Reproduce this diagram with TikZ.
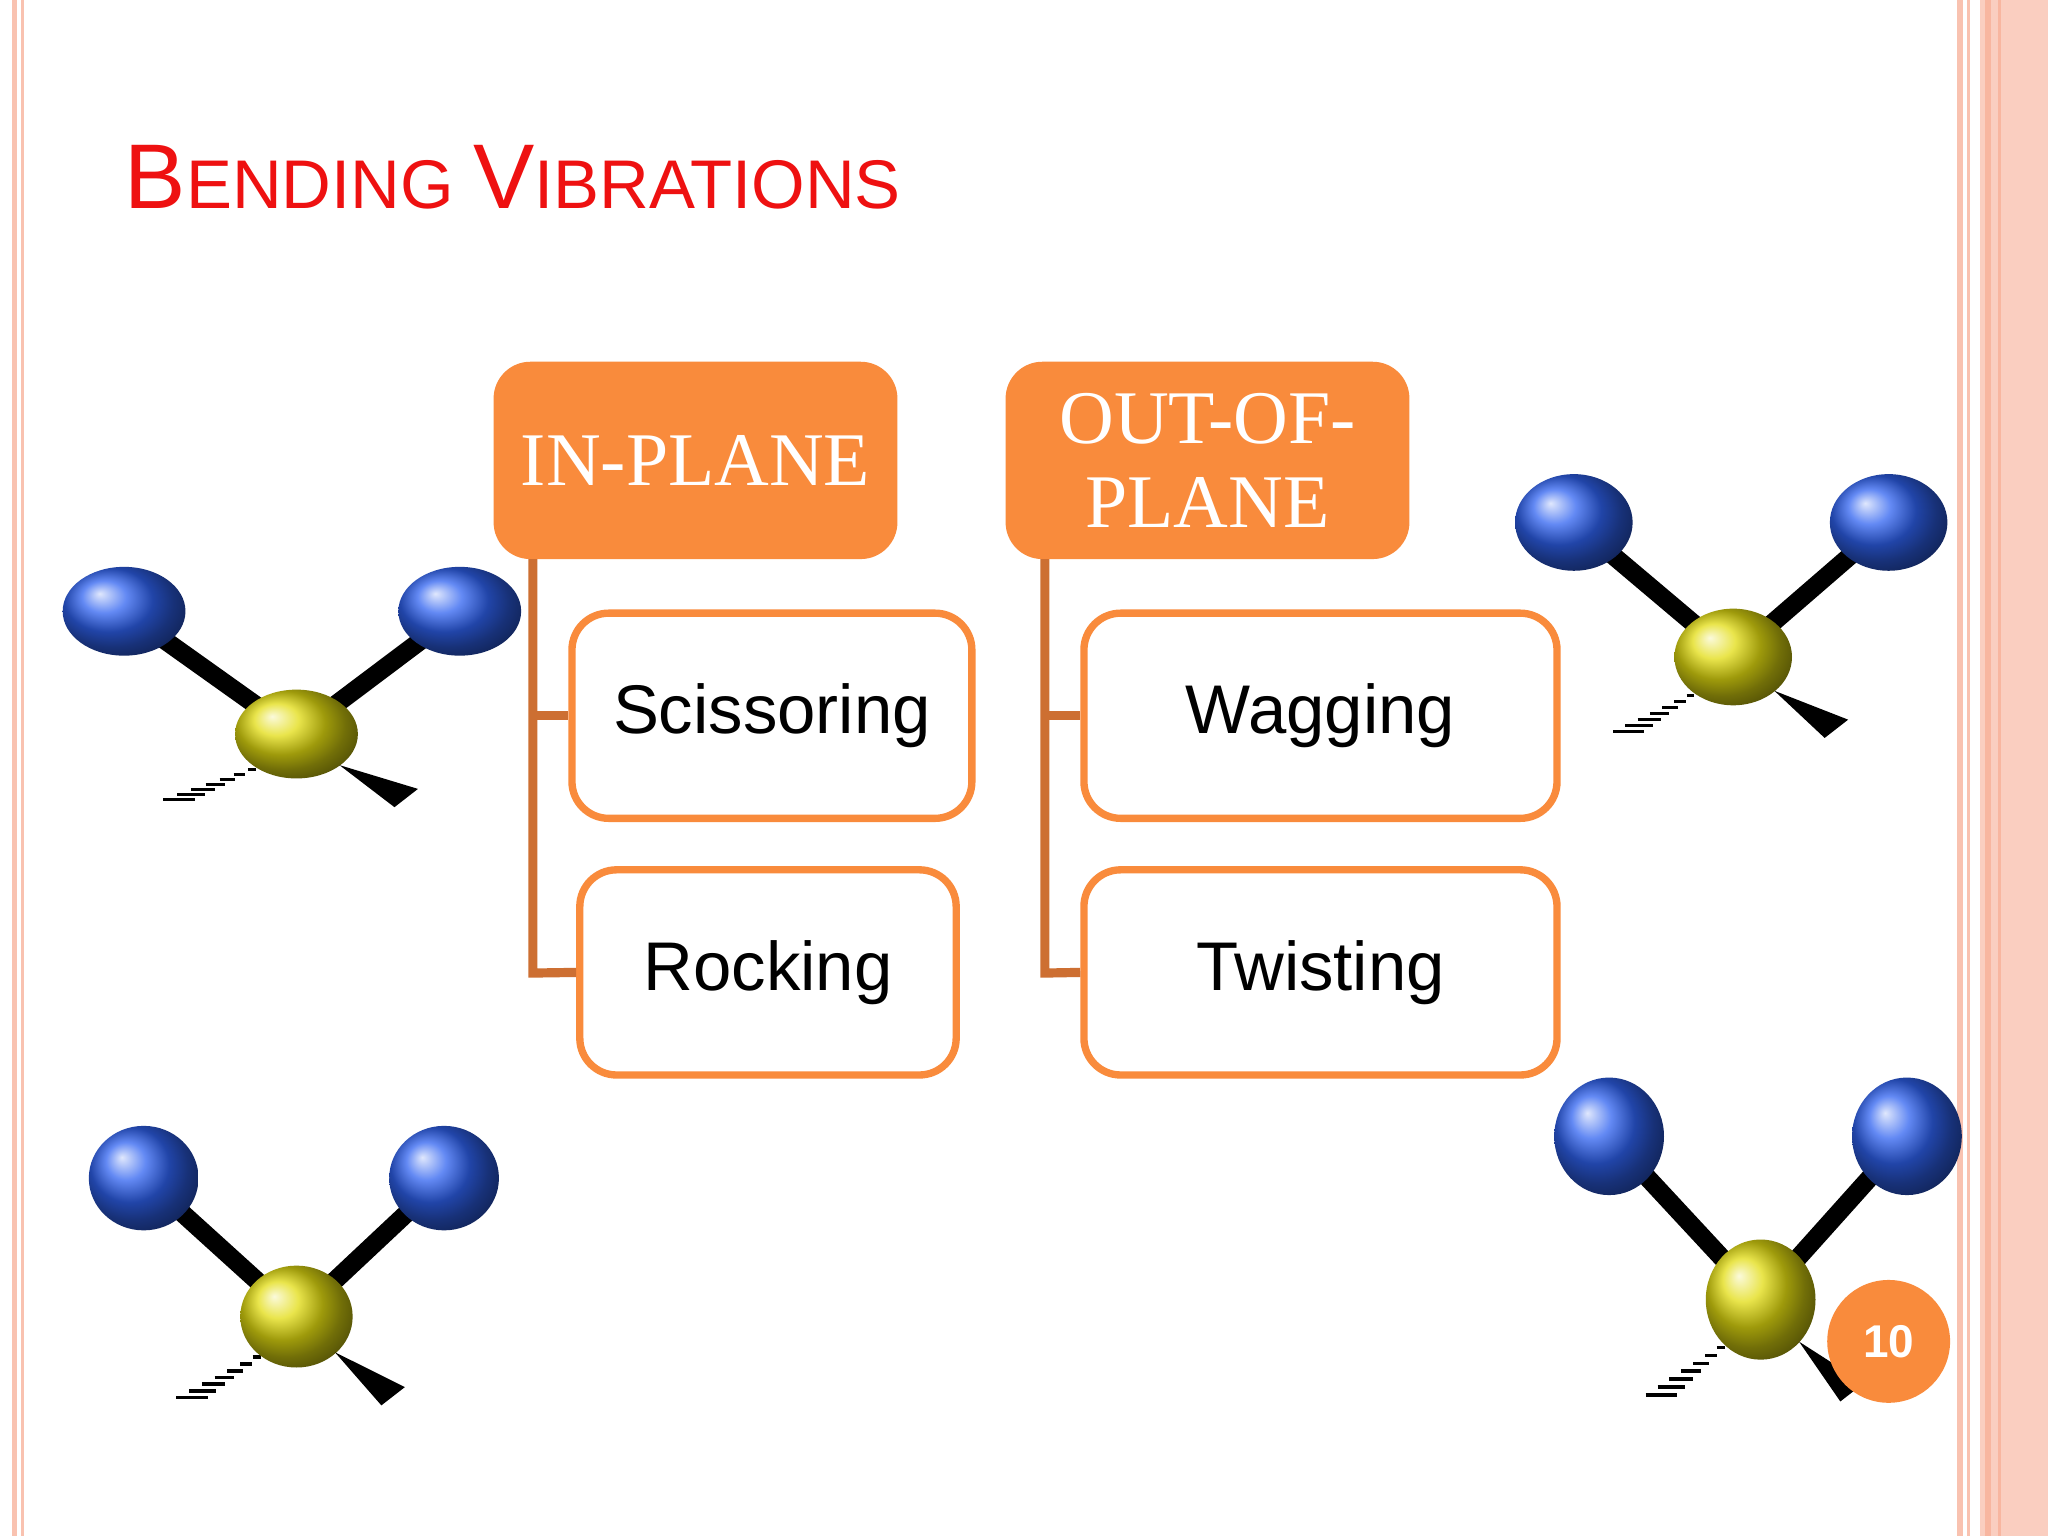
\documentclass[tikz,border=0pt]{standalone}
\usepackage{fontspec}
\setmainfont{Liberation Serif}
\setsansfont{Liberation Sans}
\definecolor{org}{HTML}{F98B3C}
\definecolor{lnk}{HTML}{CD6F32}
\definecolor{pinkl}{HTML}{F9C2B0}
\definecolor{blu}{HTML}{2F62F0}
\definecolor{yel}{HTML}{E2DC10}
\definecolor{tred}{HTML}{EE1111}
\tikzset{
 head/.style={fill=org,rounded corners=8pt,minimum width=3.09cm,minimum height=1.51cm,text=white,font=\fontsize{16.5}{17}\selectfont,align=center,inner sep=0pt},
 child/.style={draw=org,line width=1.6pt,fill=white,rounded corners=8pt,font=\sffamily\fontsize{15}{17}\selectfont,inner sep=0pt},
 link/.style={draw=lnk,line width=2pt},
 bond/.style={line width=4pt,black},
 batom/.style={ball color=blu,shading=ball},
 yatom/.style={ball color=yel,shading=ball}
}
\begin{document}
\begin{tikzpicture}[x=0.01cm,y=-0.01cm]
\useasboundingbox (0,0) rectangle (1568,1176);
\fill[white] (0,0) rectangle (1568,1176);
% borders
\fill[pinkl] (9,0) rectangle (13,1176);
\fill[pinkl] (16,0) rectangle (18,1176);
\fill[pinkl] (1498,0) rectangle (1503,1176);
\fill[pinkl] (1506,0) rectangle (1508,1176);
\fill[pinkl!80] (1516,0) rectangle (1568,1176);
\fill[pinkl!120] (1520,0) rectangle (1524,1176);
\fill[pinkl!120] (1530,0) rectangle (1532,1176);
% title
\node[anchor=base west,text=tred,font=\sffamily,inner sep=0pt] (title) at (95,160)
 {\fontsize{20}{22}\selectfont B\fontsize{15}{16}\selectfont ENDING \fontsize{20}{22}\selectfont V\fontsize{15}{16}\selectfont IBRATIONS};
% heads
\node[head] (ip) at (532.5,352.5) {IN-PLANE};
\node[head,font=\fontsize{16.5}{18.5}\selectfont] (op) at (924.5,352.5) {OUT-OF-\\PLANE};
% children
\node[child,minimum width=3.06cm,minimum height=1.57cm] (sc) at (591,548) {Scissoring};
\node[child,minimum width=2.88cm,minimum height=1.57cm] (ro) at (588,744.5) {Rocking};
\node[child,minimum width=3.62cm,minimum height=1.57cm] (wa) at (1011,548) {Wagging};
\node[child,minimum width=3.62cm,minimum height=1.57cm] (tw) at (1011,744.5) {Twisting};
% links
\coordinate (ia) at (408,428); \coordinate (ib) at (408,745);
\coordinate (oa) at (800,428); \coordinate (ob) at (800,745);
\draw[link] (ia) -- (ib) -- (ro.west);
\draw[link] (ia|-sc.west) -- (sc.west);
\draw[link] (oa) -- (ob) -- (tw.west);
\draw[link] (oa|-wa.west) -- (wa.west);
% molecules
\foreach \ax/\ay/\bx/\by/\yx/\yy/\rx/\ry/\wx/\wy/\hx/\hy/\ryx/\ryy in {
 95/468/352/468/227/562/47/34/318/610/145/612/47/34,
 110/902/340/902/227/1008/42/40/308/1068/155/1070/43/39,
 1205/400/1446/400/1327/503/45/37/1413/557/1255/560/45/37,
 1232/870/1460/870/1348/995/42/45/1425/1065/1280/1068/42/46}{
 \draw[bond] (\ax,\ay) -- (\yx,\yy) -- (\bx,\by);
 \foreach \k in {0,...,6}{
   \draw[black,line width=0.8pt] ({\yx-\rx*0.75+(\hx-\yx+\rx*0.75)*\k/6-2-3*\k},{\yy+\ryy*0.8+(\hy-\yy-\ryy*0.8)*\k/6}) -- ++({6+3*\k},0);
 }
 \shade[yatom] (\yx,\yy) ellipse[x radius=\ryx, y radius=\ryy];
 \fill[black] (\yx+\rx*0.7,\yy+\ryy*0.7) -- (\wx+2,\wy-6) -- (\wx-16,\wy+8) -- cycle;
 \shade[batom] (\ax,\ay) ellipse[x radius=\rx, y radius=\ry];
 \shade[batom] (\bx,\by) ellipse[x radius=\rx, y radius=\ry];
}
% page number
\node[circle,fill=org,minimum size=0.94cm,text=white,font=\sffamily\bfseries\fontsize{10}{12}\selectfont,inner sep=0pt] (pg) at (1446,1027) {10};
\end{tikzpicture}
\end{document}
